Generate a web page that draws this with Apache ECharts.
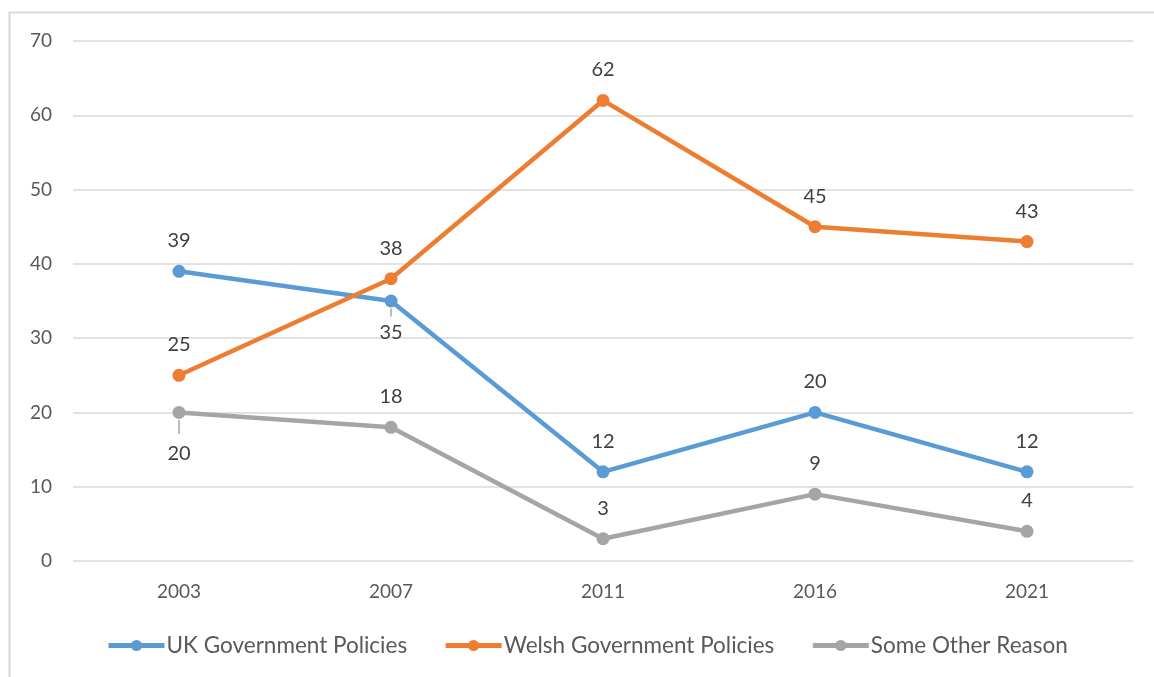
<!DOCTYPE html>
<html>
<head>
<meta charset="utf-8">
<script src="https://cdn.jsdelivr.net/npm/echarts@6/dist/echarts.min.js"></script>
<style>
html,body{margin:0;padding:0;background:#fff;}
#chart{width:1154px;height:677px;}
</style>
</head>
<body>
<div id="chart"></div>
<script>
// Survey years and share (%) citing each reason
const years = ['2003', '2007', '2011', '2016', '2021'];
const ukPolicies = [39, 35, 12, 20, 12];
const welshPolicies = [25, 38, 62, 45, 43];
const otherReason = [20, 18, 3, 9, 4];
const seriesNames = ['UK Government Policies', 'Welsh Government Policies', 'Some Other Reason'];
// labels placed under the marker (with a short leader) instead of above it
const ukBelow = [1];
const otherBelow = [0];

const FONT = 'Lato, "Liberation Sans", sans-serif';
const LABEL_COLOR = '#404040';

// leader: [bar length, text line height] for labels drawn under a marker
function points(values, below, leader) {
  return values.map((v, i) => {
    if (below.indexOf(i) < 0) return v;
    return {
      value: v,
      label: {
        position: 'bottom',
        distance: 1,
        formatter: '{bar|}\n{v|{c}}',
        rich: {
          bar: { width: 1.5, height: leader[0], backgroundColor: '#a6a6a6' },
          v: { color: LABEL_COLOR, fontFamily: FONT, fontSize: 20, lineHeight: leader[1], verticalAlign: 'bottom' }
        }
      }
    };
  });
}

function lineSeries(name, values, color, below, leader) {
  return {
    name: name,
    type: 'line',
    data: points(values, below, leader),
    symbol: 'circle',
    symbolSize: 13,
    lineStyle: { color: color, width: 4.5 },
    itemStyle: { color: color },
    label: {
      show: true,
      position: 'top',
      distance: 14,
      color: LABEL_COLOR,
      fontFamily: FONT,
      fontSize: 20
    },
    emphasis: { disabled: true },
    animation: false
  };
}

const chart = echarts.init(document.getElementById('chart'), null, { renderer: 'canvas' });
chart.setOption({
  backgroundColor: '#fff',
  animation: false,
  textStyle: { fontFamily: FONT },
  graphic: [{
    type: 'rect',
    shape: { x: 9.5, y: 12.5, width: 1200, height: 700 },
    style: { fill: 'none', stroke: '#d9d9d9', lineWidth: 2 },
    silent: true,
    z: -1
  }],
  grid: { left: 73, right: 21, top: 41, bottom: 116, containLabel: false },
  xAxis: {
    type: 'category',
    data: years,
    boundaryGap: true,
    axisLine: { show: false },
    axisTick: { show: false },
    axisLabel: { color: '#595959', fontSize: 19, fontFamily: FONT, margin: 21 }
  },
  yAxis: {
    type: 'value',
    min: 0,
    max: 70,
    interval: 10,
    axisLine: { show: false },
    axisTick: { show: false },
    axisLabel: { color: '#595959', fontSize: 19, fontFamily: FONT, margin: 21 },
    splitLine: { lineStyle: { color: '#d9d9d9', width: 1.5 } }
  },
  legend: {
    bottom: 15,
    left: 101,
    itemWidth: 56,
    itemHeight: 14,
    itemGap: 36,
    lineStyle: { width: 5 },
    textStyle: { color: '#595959', fontSize: 22.5, fontFamily: FONT, padding: [0, 0, 0, -3] },
    data: seriesNames
  },
  series: [
    lineSeries(seriesNames[0], ukPolicies, '#5b9bd5', ukBelow, [8, 26]),
    lineSeries(seriesNames[1], welshPolicies, '#ed7d31', [], [0, 0]),
    lineSeries(seriesNames[2], otherReason, '#a5a5a5', otherBelow, [14, 30])
  ]
});
</script>
</body>
</html>
